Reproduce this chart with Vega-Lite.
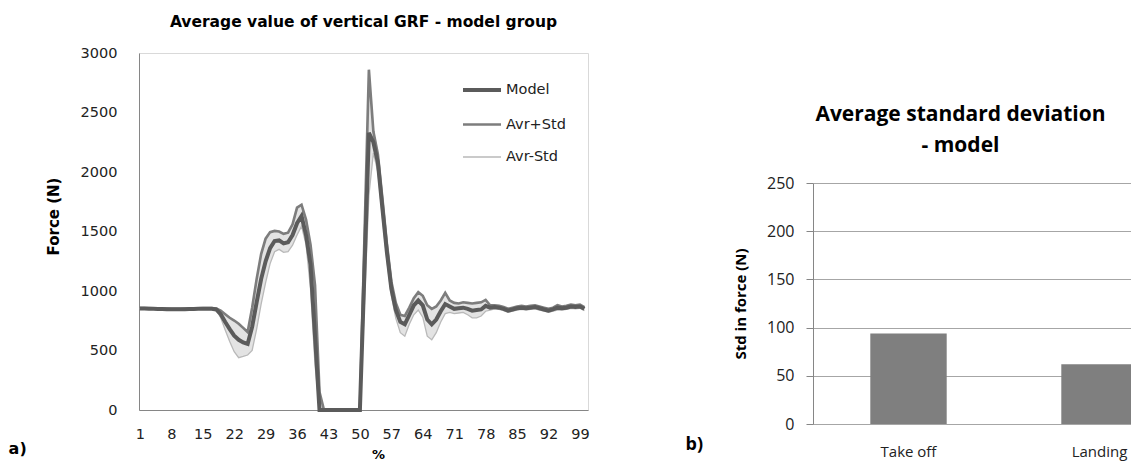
{
  "$schema": "https://vega.github.io/schema/vega-lite/v6.json",
  "padding": {"left": 8, "top": 14, "right": 0, "bottom": 0},
  "background": "white",
  "spacing": 92,
  "config": {"view": {"stroke": null}, "font": "DejaVu Sans"},
  "datasets": {
    "grf": [
      {"pct": 1, "Model": 852, "Avr+Std": 857, "Avr-Std": 847},
      {"pct": 2, "Model": 852, "Avr+Std": 857, "Avr-Std": 847},
      {"pct": 3, "Model": 851, "Avr+Std": 856, "Avr-Std": 846},
      {"pct": 4, "Model": 850, "Avr+Std": 855, "Avr-Std": 845},
      {"pct": 5, "Model": 849, "Avr+Std": 854, "Avr-Std": 844},
      {"pct": 6, "Model": 848, "Avr+Std": 853, "Avr-Std": 843},
      {"pct": 7, "Model": 847, "Avr+Std": 852, "Avr-Std": 842},
      {"pct": 8, "Model": 846, "Avr+Std": 851, "Avr-Std": 841},
      {"pct": 9, "Model": 846, "Avr+Std": 851, "Avr-Std": 841},
      {"pct": 10, "Model": 846, "Avr+Std": 851, "Avr-Std": 841},
      {"pct": 11, "Model": 847, "Avr+Std": 852, "Avr-Std": 842},
      {"pct": 12, "Model": 848, "Avr+Std": 853, "Avr-Std": 843},
      {"pct": 13, "Model": 849, "Avr+Std": 854, "Avr-Std": 844},
      {"pct": 14, "Model": 850, "Avr+Std": 855, "Avr-Std": 845},
      {"pct": 15, "Model": 851, "Avr+Std": 856, "Avr-Std": 846},
      {"pct": 16, "Model": 851, "Avr+Std": 856, "Avr-Std": 846},
      {"pct": 17, "Model": 851, "Avr+Std": 857, "Avr-Std": 845},
      {"pct": 18, "Model": 845, "Avr+Std": 852, "Avr-Std": 836},
      {"pct": 19, "Model": 805, "Avr+Std": 835, "Avr-Std": 775},
      {"pct": 20, "Model": 740, "Avr+Std": 805, "Avr-Std": 672},
      {"pct": 21, "Model": 680, "Avr+Std": 775, "Avr-Std": 575},
      {"pct": 22, "Model": 625, "Avr+Std": 752, "Avr-Std": 490},
      {"pct": 23, "Model": 590, "Avr+Std": 725, "Avr-Std": 440},
      {"pct": 24, "Model": 568, "Avr+Std": 690, "Avr-Std": 450},
      {"pct": 25, "Model": 555, "Avr+Std": 655, "Avr-Std": 462},
      {"pct": 26, "Model": 700, "Avr+Std": 860, "Avr-Std": 500},
      {"pct": 27, "Model": 905, "Avr+Std": 1100, "Avr-Std": 680},
      {"pct": 28, "Model": 1100, "Avr+Std": 1310, "Avr-Std": 890},
      {"pct": 29, "Model": 1250, "Avr+Std": 1440, "Avr-Std": 1070},
      {"pct": 30, "Model": 1360, "Avr+Std": 1495, "Avr-Std": 1230},
      {"pct": 31, "Model": 1420, "Avr+Std": 1505, "Avr-Std": 1330},
      {"pct": 32, "Model": 1425, "Avr+Std": 1500, "Avr-Std": 1350},
      {"pct": 33, "Model": 1400, "Avr+Std": 1480, "Avr-Std": 1325},
      {"pct": 34, "Model": 1410, "Avr+Std": 1490, "Avr-Std": 1330},
      {"pct": 35, "Model": 1470, "Avr+Std": 1560, "Avr-Std": 1385},
      {"pct": 36, "Model": 1570, "Avr+Std": 1700, "Avr-Std": 1470},
      {"pct": 37, "Model": 1630, "Avr+Std": 1725, "Avr-Std": 1545},
      {"pct": 38, "Model": 1470, "Avr+Std": 1600, "Avr-Std": 1390},
      {"pct": 39, "Model": 1220, "Avr+Std": 1390, "Avr-Std": 1020},
      {"pct": 40, "Model": 620, "Avr+Std": 1050, "Avr-Std": 380},
      {"pct": 41, "Model": 0, "Avr+Std": 150, "Avr-Std": 0},
      {"pct": 42, "Model": 0, "Avr+Std": 0, "Avr-Std": 0},
      {"pct": 43, "Model": 0, "Avr+Std": 0, "Avr-Std": 0},
      {"pct": 44, "Model": 0, "Avr+Std": 0, "Avr-Std": 0},
      {"pct": 45, "Model": 0, "Avr+Std": 0, "Avr-Std": 0},
      {"pct": 46, "Model": 0, "Avr+Std": 0, "Avr-Std": 0},
      {"pct": 47, "Model": 0, "Avr+Std": 0, "Avr-Std": 0},
      {"pct": 48, "Model": 0, "Avr+Std": 0, "Avr-Std": 0},
      {"pct": 49, "Model": 0, "Avr+Std": 0, "Avr-Std": 0},
      {"pct": 50, "Model": 0, "Avr+Std": 0, "Avr-Std": 0},
      {"pct": 51, "Model": 1150, "Avr+Std": 1430, "Avr-Std": 880},
      {"pct": 52, "Model": 2330, "Avr+Std": 2860, "Avr-Std": 1800},
      {"pct": 53, "Model": 2250, "Avr+Std": 2340, "Avr-Std": 2160},
      {"pct": 54, "Model": 2080, "Avr+Std": 2150, "Avr-Std": 2000},
      {"pct": 55, "Model": 1700, "Avr+Std": 1780, "Avr-Std": 1620},
      {"pct": 56, "Model": 1330, "Avr+Std": 1400, "Avr-Std": 1260},
      {"pct": 57, "Model": 1020, "Avr+Std": 1080, "Avr-Std": 960},
      {"pct": 58, "Model": 840, "Avr+Std": 900, "Avr-Std": 770},
      {"pct": 59, "Model": 740, "Avr+Std": 800, "Avr-Std": 650},
      {"pct": 60, "Model": 720, "Avr+Std": 790, "Avr-Std": 620},
      {"pct": 61, "Model": 800, "Avr+Std": 860, "Avr-Std": 720},
      {"pct": 62, "Model": 880, "Avr+Std": 940, "Avr-Std": 800},
      {"pct": 63, "Model": 920, "Avr+Std": 990, "Avr-Std": 840},
      {"pct": 64, "Model": 880, "Avr+Std": 960, "Avr-Std": 780},
      {"pct": 65, "Model": 760, "Avr+Std": 880, "Avr-Std": 620},
      {"pct": 66, "Model": 720, "Avr+Std": 850, "Avr-Std": 590},
      {"pct": 67, "Model": 760, "Avr+Std": 870, "Avr-Std": 650},
      {"pct": 68, "Model": 830, "Avr+Std": 920, "Avr-Std": 740},
      {"pct": 69, "Model": 890, "Avr+Std": 985, "Avr-Std": 810},
      {"pct": 70, "Model": 870, "Avr+Std": 920, "Avr-Std": 820},
      {"pct": 71, "Model": 850, "Avr+Std": 900, "Avr-Std": 810},
      {"pct": 72, "Model": 855, "Avr+Std": 895, "Avr-Std": 815},
      {"pct": 73, "Model": 860, "Avr+Std": 905, "Avr-Std": 820},
      {"pct": 74, "Model": 850, "Avr+Std": 900, "Avr-Std": 800},
      {"pct": 75, "Model": 835, "Avr+Std": 895, "Avr-Std": 775},
      {"pct": 76, "Model": 840, "Avr+Std": 900, "Avr-Std": 775},
      {"pct": 77, "Model": 845, "Avr+Std": 905, "Avr-Std": 790},
      {"pct": 78, "Model": 875, "Avr+Std": 925, "Avr-Std": 830},
      {"pct": 79, "Model": 860, "Avr+Std": 880, "Avr-Std": 840},
      {"pct": 80, "Model": 865, "Avr+Std": 880, "Avr-Std": 850},
      {"pct": 81, "Model": 860, "Avr+Std": 875, "Avr-Std": 845},
      {"pct": 82, "Model": 850, "Avr+Std": 865, "Avr-Std": 835},
      {"pct": 83, "Model": 835, "Avr+Std": 850, "Avr-Std": 820},
      {"pct": 84, "Model": 845, "Avr+Std": 860, "Avr-Std": 830},
      {"pct": 85, "Model": 855, "Avr+Std": 870, "Avr-Std": 840},
      {"pct": 86, "Model": 860, "Avr+Std": 875, "Avr-Std": 845},
      {"pct": 87, "Model": 855, "Avr+Std": 870, "Avr-Std": 840},
      {"pct": 88, "Model": 860, "Avr+Std": 875, "Avr-Std": 845},
      {"pct": 89, "Model": 865, "Avr+Std": 880, "Avr-Std": 850},
      {"pct": 90, "Model": 855, "Avr+Std": 870, "Avr-Std": 840},
      {"pct": 91, "Model": 845, "Avr+Std": 860, "Avr-Std": 830},
      {"pct": 92, "Model": 835, "Avr+Std": 850, "Avr-Std": 820},
      {"pct": 93, "Model": 845, "Avr+Std": 860, "Avr-Std": 830},
      {"pct": 94, "Model": 860, "Avr+Std": 880, "Avr-Std": 840},
      {"pct": 95, "Model": 855, "Avr+Std": 870, "Avr-Std": 840},
      {"pct": 96, "Model": 860, "Avr+Std": 875, "Avr-Std": 845},
      {"pct": 97, "Model": 870, "Avr+Std": 885, "Avr-Std": 855},
      {"pct": 98, "Model": 865, "Avr+Std": 880, "Avr-Std": 850},
      {"pct": 99, "Model": 870, "Avr+Std": 885, "Avr-Std": 855},
      {"pct": 100, "Model": 850, "Avr+Std": 865, "Avr-Std": 835}
    ],
    "std": [
      {"phase": "Take off", "std": 94},
      {"phase": "Landing", "std": 62}
    ]
  },
  "hconcat": [
    {
      "title": {"text": "a)", "orient": "bottom", "anchor": "start", "font": "DejaVu Sans", "fontSize": 16, "fontWeight": "bold", "color": "#000", "dx": -37, "dy": -13, "offset": 0, "baseline": "middle"},
      "vconcat": [
        {
          "width": 449,
          "height": 357,
          "data": {"name": "grf"},
          "view": {"stroke": "#d9d9d9"},
          "title": {"text": "Average value of vertical GRF - model group", "font": "DejaVu Sans", "fontSize": 15.5, "fontWeight": "bold", "color": "#000", "offset": 15, "anchor": "middle"},
          "encoding": {
            "x": {
              "field": "pct", "type": "quantitative",
              "scale": {"domain": [0.8, 100.8], "nice": false, "zero": false},
              "axis": {"values": [1, 8, 15, 22, 29, 36, 43, 50, 57, 64, 71, 78, 85, 92, 99], "title": "%", "titleFont": "DejaVu Sans", "titleFontSize": 13, "titleFontWeight": "bold", "titleColor": "#000", "titleX": 239, "titlePadding": 8, "labelFont": "DejaVu Sans", "labelFontSize": 14.5, "labelColor": "#222", "labelPadding": 17, "ticks": false, "tickSize": 0, "grid": false, "domainColor": "#868686", "labelFlush": false, "labelOverlap": false}
            }
          },
          "layer": [
            {
              "mark": {"type": "area", "color": "#e3e3e3"},
              "encoding": {
                "y": {"field": "Avr-Std", "type": "quantitative", "scale": {"domain": [0, 3000], "nice": false}, "axis": {"values": [0, 500, 1000, 1500, 2000, 2500, 3000], "format": "d", "title": "Force (N)", "titleFont": "DejaVu Sans", "titleFontSize": 15, "titleFontWeight": "bold", "titleColor": "#000", "titlePadding": 19, "titleY": 163, "labelFont": "DejaVu Sans", "labelFontSize": 14.5, "labelColor": "#222", "labelPadding": 22, "ticks": false, "tickSize": 0, "grid": false, "domainColor": "#868686"}},
                "y2": {"field": "Avr+Std"}
              }
            },
            {
              "transform": [{"fold": ["Avr+Std", "Avr-Std"], "as": ["series", "force"]}],
              "mark": {"type": "line"},
              "encoding": {
                "y": {"field": "force", "type": "quantitative", "title": "Force (N)"},
                "color": {"field": "series", "type": "nominal", "scale": {"domain": ["Model", "Avr+Std", "Avr-Std"], "range": ["#5b5b5b", "#7d7d7d", "#b9b9b9"]}, "legend": {"orient": "none", "legendX": 322, "legendY": 16, "title": null, "symbolType": "stroke", "symbolSize": 1444, "labelFont": "DejaVu Sans", "labelFontSize": 14.5, "labelColor": "#222", "labelOffset": 3, "rowPadding": 6}},
                "strokeWidth": {"field": "series", "type": "nominal", "scale": {"domain": ["Model", "Avr+Std", "Avr-Std"], "range": [4, 1.3, 1.3]}}
              }
            },
            {
              "transform": [{"fold": ["Model"], "as": ["series", "force"]}],
              "mark": {"type": "line"},
              "encoding": {
                "y": {"field": "force", "type": "quantitative", "title": "Force (N)"},
                "color": {"field": "series", "type": "nominal"},
                "strokeWidth": {"field": "series", "type": "nominal"}
              }
            }
          ]
        }
      ]
    },
    {
      "title": {"text": "b)", "orient": "bottom", "anchor": "start", "font": "Open Sans", "fontSize": 18, "fontWeight": "bold", "color": "#000", "dx": -48, "dy": -14, "offset": 0, "baseline": "middle"},
      "vconcat": [
        {
          "width": 319,
          "height": 371,
          "data": {"name": "std"},
          "title": {"text": ["Average standard deviation", "- model"], "font": "Open Sans", "fontSize": 21, "fontWeight": "bold", "color": "#000", "lineHeight": 31, "offset": -103, "frame": "group", "anchor": "middle", "dx": -12},
          "mark": {"type": "bar", "color": "#7f7f7f", "width": {"band": 0.4}},
          "encoding": {
            "x": {"field": "phase", "type": "nominal", "sort": null, "scale": {"range": [0, 382], "paddingInner": 0, "paddingOuter": 0}, "axis": {"title": null, "labelAngle": 0, "labelFont": "Open Sans", "labelFontSize": 15, "labelColor": "#222", "labelPadding": 20, "ticks": false, "tickSize": 0, "domainColor": "#a6a6a6"}},
            "y": {"field": "std", "type": "quantitative", "scale": {"domain": [0, 250], "range": [371, 130], "nice": false}, "axis": {"values": [0, 50, 100, 150, 200, 250], "title": "Std in force (N)", "titleFont": "Open Sans", "titleFontSize": 15, "titleFontWeight": "bold", "titleColor": "#000", "titlePadding": 18, "labelFont": "Open Sans", "labelFontSize": 16, "labelColor": "#222", "labelPadding": 12, "tickSize": 7, "tickColor": "#868686", "domainColor": "#868686", "grid": true, "gridColor": "#a6a6a6"}}
          }
        }
      ]
    }
  ]
}
